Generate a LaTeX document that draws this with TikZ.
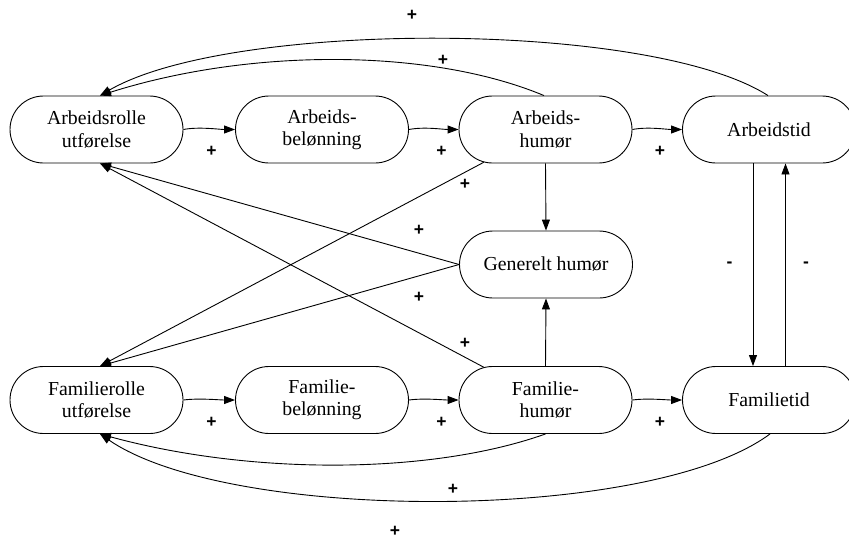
\documentclass[tikz,border=0pt]{standalone}
\usepackage{fontspec}
\setmainfont{Liberation Serif}
\newfontfamily\signfont{Liberation Sans}
\usetikzlibrary{shapes.misc,arrows.meta}

\tikzset{
  stadium/.style={draw, line width=0.9pt, rounded rectangle,
    minimum width=173pt, minimum height=67pt, inner sep=0pt,
    align=center, font=\fontsize{19.8}{22.4}\selectfont},
  link/.style={line width=0.9pt, -{Triangle[length=11pt,width=8pt]}},
  sign/.style={font=\signfont\bfseries\fontsize{17.5}{17.5}\selectfont, inner sep=0pt}
}

\begin{document}
\begin{tikzpicture}[x=1pt, y=-1pt]
\useasboundingbox (0,0) rectangle (849,539);

% work row
\node[stadium] (ar) at (96.5,129.5) {Arbeidsrolle\\utførelse};
\node[stadium] (ab) at (322,129.5) {Arbeids-\\belønning};
\node[stadium] (ah) at (545.5,129.5) {Arbeids-\\humør};
\node[stadium] (at) at (769,129.5) {Arbeidstid};

% general mood
\node[stadium] (gh) at (546,264.5) {Generelt humør};

% family row
\node[stadium] (fr) at (96.5,400) {Familierolle\\utførelse};
\node[stadium] (fb) at (322,400) {Familie-\\belønning};
\node[stadium] (fh) at (545.5,400) {Familie-\\humør};
\node[stadium] (ft) at (769,400) {Familietid};

% arrow targets slightly right of centre
\coordinate (arTop) at ([xshift=3.5pt]ar.north);
\coordinate (arBot) at ([xshift=3.5pt]ar.south);
\coordinate (frTop) at ([xshift=3.5pt]fr.north);
\coordinate (frBot) at ([xshift=3.5pt]fr.south);

% chains along each row
\draw[link] (ar.east) .. controls +(15,-3) and +(-15,0) .. (ab.west);
\draw[link] (ab.east) .. controls +(15,-3) and +(-15,0) .. (ah.west);
\draw[link] (ah.east) .. controls +(15,-3) and +(-15,0) .. (at.west);
\draw[link] (fr.east) .. controls +(15,-2) and +(-15,0) .. (fb.west);
\draw[link] (fb.east) .. controls +(15,-2) and +(-15,0) .. (fh.west);
\draw[link] (fh.east) .. controls +(15,-2) and +(-15,0) .. (ft.west);

% into general mood
\draw[link] (ah.south) -- (gh.north);
\draw[link] (fh.north) -- (gh.south);

% time trade-off
\draw[link] ([xshift=-16pt]at.south) -- ([xshift=-16pt]ft.north);
\draw[link] ([xshift=16.5pt]ft.north) -- ([xshift=16.5pt]at.south);

% crossing feedback lines
\draw[link] (gh.west) -- (arBot);
\draw[link] (fh) -- (arBot);
\draw[link] (gh.west) -- (frTop);
\draw[link] (ah) -- (frTop);

% long arcs above
\draw[link] ([xshift=-1pt]at.north) .. controls (650,20) and (230,20) .. (arTop);
\draw[link] ([xshift=-1.5pt]ah.north) .. controls (430,48) and (250,48) .. (arTop);

% long arcs below
\draw[link] (fh.south) .. controls (430,475) and (250,475) .. (frBot);
\draw[link] ([xshift=1pt]ft.south) .. controls (650,523) and (230,523) .. (frBot);

% signs
\node[sign] (s1) at (211.5,151) {+};
\node[sign] (s2) at (441.5,151) {+};
\node[sign] (s3) at (660,151) {+};
\node[sign] (s4) at (211.5,422) {+};
\node[sign] (s5) at (441.5,422) {+};
\node[sign] (s6) at (660,422) {+};
\node[sign] (s7) at (412,15) {+};
\node[sign] (s8) at (443,60) {+};
\node[sign] (s9) at (465,184) {+};
\node[sign] (s10) at (419,230) {+};
\node[sign] (s11) at (419,297) {+};
\node[sign] (s12) at (465,343) {+};
\node[sign] (s13) at (453,489) {+};
\node[sign] (s14) at (395,531.5) {+};
\node[sign] (m1) at (729.5,265) {-};
\node[sign] (m2) at (806,265) {-};
\end{tikzpicture}
\end{document}
